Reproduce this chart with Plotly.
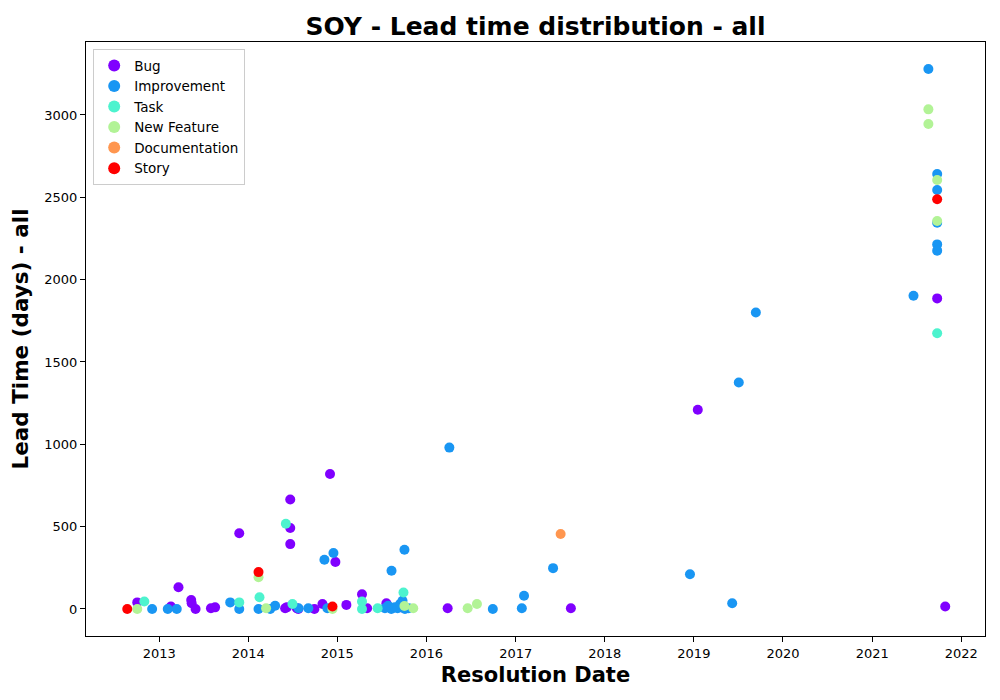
import plotly.graph_objects as go

# lead time (days) per issue type, keyed by resolution date
bug_dates = ["2012-10-03", "2013-02-18", "2013-03-21", "2013-05-12", "2013-05-14", "2013-05-30",
             "2013-08-01", "2013-08-18", "2013-11-25", "2014-06-01", "2014-06-08", "2014-06-22",
             "2014-06-22", "2014-06-22", "2014-07-19", "2014-07-25", "2014-09-29", "2014-11-01",
             "2014-12-02", "2014-12-24", "2015-02-07", "2015-04-12", "2015-05-03", "2015-07-21",
             "2015-08-10", "2015-09-20", "2016-03-28", "2017-08-15", "2019-01-17", "2021-09-24",
             "2021-10-27"]
bug_days = [40, 15, 132, 55, 35, 0,
            5, 10, 460, 5, 10, 665,
            492, 394, 5, 0, 0, 30,
            820, 285, 25, 90, 5, 35,
            5, 10, 5, 5, 1210, 1886,
            15]

imp_dates = ["2012-12-03", "2013-02-05", "2013-03-14", "2013-10-19", "2013-11-25", "2014-02-12",
             "2014-04-01", "2014-04-21", "2014-07-26", "2014-09-04", "2014-11-09", "2014-11-21",
             "2014-12-16", "2015-07-15", "2015-07-28", "2015-08-10", "2015-08-11", "2015-08-25",
             "2015-09-05", "2015-09-15", "2015-09-25", "2015-10-03", "2015-10-05", "2015-10-20",
             "2016-04-04", "2016-09-29", "2017-01-26", "2017-02-04", "2017-06-03", "2018-12-16",
             "2019-06-07", "2019-07-04", "2019-09-12", "2021-06-19", "2021-08-19", "2021-09-24",
             "2021-09-24", "2021-09-24", "2021-09-24", "2021-09-24"]
imp_days = [0, 0, 0, 40, 0, 0,
            0, 20, 5, 5, 299, 5,
            340, 5, 20, 0, 232, 10,
            5, 30, 50, 360, 0, 5,
            980, 0, 5, 80, 248, 211,
            35, 1375, 1800, 1902, 3279, 2641,
            2544, 2345, 2214, 2176]

task_dates = ["2012-11-01", "2013-11-25", "2014-02-16", "2014-06-04", "2014-07-01", "2015-04-12",
              "2015-04-12", "2015-06-15", "2015-09-29", "2021-09-24"]
task_days = [45, 40, 71, 518, 30, 45,
             0, 5, 100, 1674]

feat_dates = ["2012-10-03", "2014-02-12", "2014-03-15", "2014-12-12", "2015-10-03", "2015-11-08",
              "2016-06-18", "2016-07-26", "2021-08-19", "2021-08-19", "2021-09-24", "2021-09-24"]
feat_days = [0, 193, 5, 0, 18, 5,
             5, 30, 3034, 2945, 2605, 2356]

doc_dates = ["2017-07-04"]
doc_days = [455]

story_dates = ["2012-08-23", "2014-02-12", "2014-12-12", "2021-09-24"]
story_days = [0, 224, 15, 2488]

series = [
    ("Bug", bug_dates, bug_days, "#8000ff"),
    ("Improvement", imp_dates, imp_days, "#1996f3"),
    ("Task", task_dates, task_days, "#4df3ce"),
    ("New Feature", feat_dates, feat_days, "#b2f396"),
    ("Documentation", doc_dates, doc_days, "#ff964f"),
    ("Story", story_dates, story_days, "#ff0000"),
]

FONT = "DejaVu Sans"

fig = go.Figure()
for name, xs, ys, col in series:
    fig.add_trace(go.Scatter(x=xs, y=ys, mode="markers", name=name,
                             marker=dict(color=col, size=10, line=dict(width=0))))

axis_common = dict(showline=True, linecolor="black", linewidth=1, mirror=True,
                   showgrid=False, zeroline=False, ticks="outside", ticklen=5,
                   tickcolor="black", automargin=False,
                   tickfont=dict(family=FONT, size=13, color="black"))

# the page body adds an 8px offset, margins are compensated for it
fig.update_layout(
    width=1000, height=700,
    paper_bgcolor="white", plot_bgcolor="white",
    margin=dict(l=78, r=23, t=34, b=72),
    font=dict(family=FONT, color="black"),
    title=dict(text="<b>SOY - Lead time distribution - all</b>", x=0.5275, xanchor="center",
               y=0.974, yanchor="middle", font=dict(family=FONT, size=25, color="black")),
    xaxis=dict(range=["2012-03-07", "2022-04-08"], type="date", dtick="M12", tickformat="%Y",
               title=dict(text="<b>Resolution Date</b>", font=dict(family=FONT, size=21), standoff=7),
               **axis_common),
    yaxis=dict(range=[-164, 3443], tickvals=[0, 500, 1000, 1500, 2000, 2500, 3000],
               title=dict(text="<b>Lead Time (days) - all</b>", font=dict(family=FONT, size=21.5), standoff=9),
               **axis_common),
    legend=dict(x=0.008, y=0.988, xanchor="left", yanchor="top",
                bgcolor="rgba(255,255,255,0.8)", bordercolor="#cccccc", borderwidth=1,
                font=dict(family=FONT, size=13.5, color="black"), itemsizing="constant",
                tracegroupgap=0),
    showlegend=True,
)

fig.write_html("out.html")
